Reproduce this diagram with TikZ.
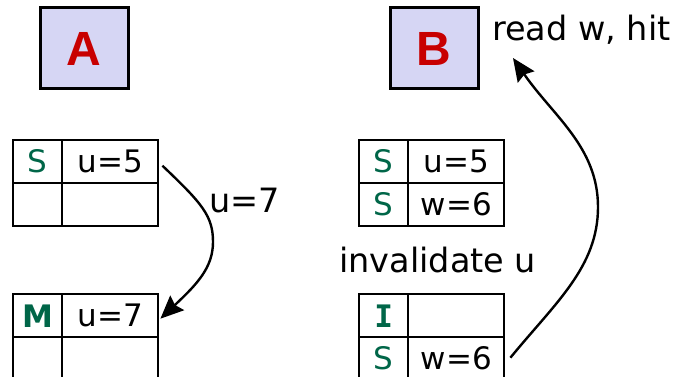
\documentclass[tikz,border=0pt]{standalone}
\usepackage{fontspec}
\setmainfont{DejaVu Sans}
\newfontfamily\boxfont{Liberation Sans}
\newfontfamily\monofont{DejaVu Sans Mono}
\usetikzlibrary{arrows.meta}
\definecolor{procfill}{RGB}{214,214,244}
\definecolor{procred}{RGB}{200,0,0}
\definecolor{stategreen}{RGB}{0,102,72}
\tikzset{
  proc/.style={draw, line width=3pt, fill=procfill, minimum width=88pt,
    minimum height=81pt, inner sep=0pt,
    font=\boxfont\bfseries\fontsize{48}{56}\selectfont, text=procred},
  cell/.style={draw, line width=2.4pt, inner sep=0pt, minimum height=43pt,
    anchor=north west, font=\fontsize{31}{36}\selectfont},
  statecell/.style={cell, minimum width=49pt, text=stategreen},
  datacell/.style={cell, minimum width=96pt},
  lbl/.style={anchor=base west, inner sep=0pt, font=\fontsize{33.5}{40}\selectfont},
  flow/.style={line width=2.4pt, -{Stealth[length=23pt,width=20pt,inset=3pt]}}
}
\begin{document}
\begin{tikzpicture}[x=1pt, y=-1pt]
\useasboundingbox (0,0) rectangle (680,377);

% processor boxes
\node[proc] (pa) at (84,48.5) {A};
\node[proc] (pb) at (434,48.5) {B};
\node[lbl] (read) at (492,41) {read w, hit};

% cache of A before the write
\node[statecell] (a1s) at (12,139) {S};
\node[datacell]  (a1d) at (61,139) {u=5};
\node[statecell] (a2s) at (12,182) {};
\node[datacell]  (a2d) at (61,182) {};

% cache of A after the write
\node[statecell] (a3s) at (12,293) {\bfseries M};
\node[datacell]  (a3d) at (61,293) {u=7};
\node[statecell] (a4s) at (12,336) {};
\node[datacell]  (a4d) at (61,336) {};

% cache of B before the invalidation
\node[statecell] (b1s) at (358,139) {S};
\node[datacell]  (b1d) at (407,139) {u=5};
\node[statecell] (b2s) at (358,182) {S};
\node[datacell]  (b2d) at (407,182) {w=6};

% cache of B after the invalidation
\node[statecell] (b3s) at (358,293) {\monofont\bfseries I};
\node[datacell]  (b3d) at (407,293) {};
\node[statecell] (b4s) at (358,336) {S};
\node[datacell]  (b4d) at (407,336) {w=6};

\node[lbl] (wlbl) at (209,212) {u=7};
\node[lbl] (inv) at (339,272) {invalidate u};

% write u=7 in A
\coordinate (abend) at (213,242);
\draw[flow] ([xshift=3pt,yshift=-4pt]a1d.east)
  .. controls +(40,38) and +(0,-26) .. (abend)
  .. controls +(0,26) and +(36,-34) .. ([xshift=1pt,yshift=-3pt]a3d.east);

% B reads w and hits
\coordinate (bbend) at (598,207);
\coordinate (rtip) at (513,58);
\draw[flow] ([xshift=5pt,yshift=1pt]b4d.east)
  .. controls +(45,-55) and +(0,60) .. (bbend)
  .. controls +(0,-60) and +(40,58) .. (rtip);
\end{tikzpicture}
\end{document}
